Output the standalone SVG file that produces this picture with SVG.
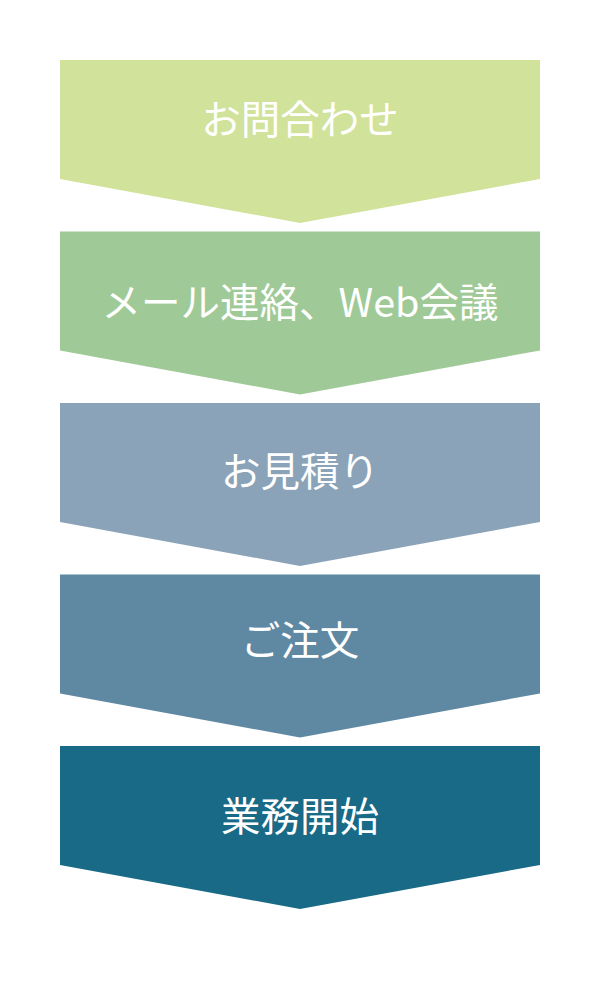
<svg xmlns="http://www.w3.org/2000/svg" width="600" height="1000" viewBox="0 0 600 1000">
<style>
.lbl{font-family:"Noto Sans CJK JP","Noto Sans",sans-serif;font-size:39.5px;font-weight:400;fill:#ffffff;text-anchor:middle}
</style>
<rect width="600" height="1000" fill="#ffffff"/>
<g id="step1"><path d="M60 60H540V179L300 223L60 179Z" fill="#d1e29b"/><text class="lbl" x="300" y="134">お問合わせ</text></g>
<g id="step2"><path d="M60 231.5H540V350.5L300 394.5L60 350.5Z" fill="#9fca98"/><text class="lbl" x="300" y="317">メール連絡、Web会議</text></g>
<g id="step3"><path d="M60 403H540V522L300 566L60 522Z" fill="#8aa3b8"/><text class="lbl" x="300" y="486">お見積り</text></g>
<g id="step4"><path d="M60 574.5H540V693.5L300 737.5L60 693.5Z" fill="#5f89a3"/><text class="lbl" x="300" y="655">ご注文</text></g>
<g id="step5"><path d="M60 746H540V865L300 909L60 865Z" fill="#186a87"/><text class="lbl" x="300" y="831">業務開始</text></g>
<g id="connectors"></g>
</svg>
